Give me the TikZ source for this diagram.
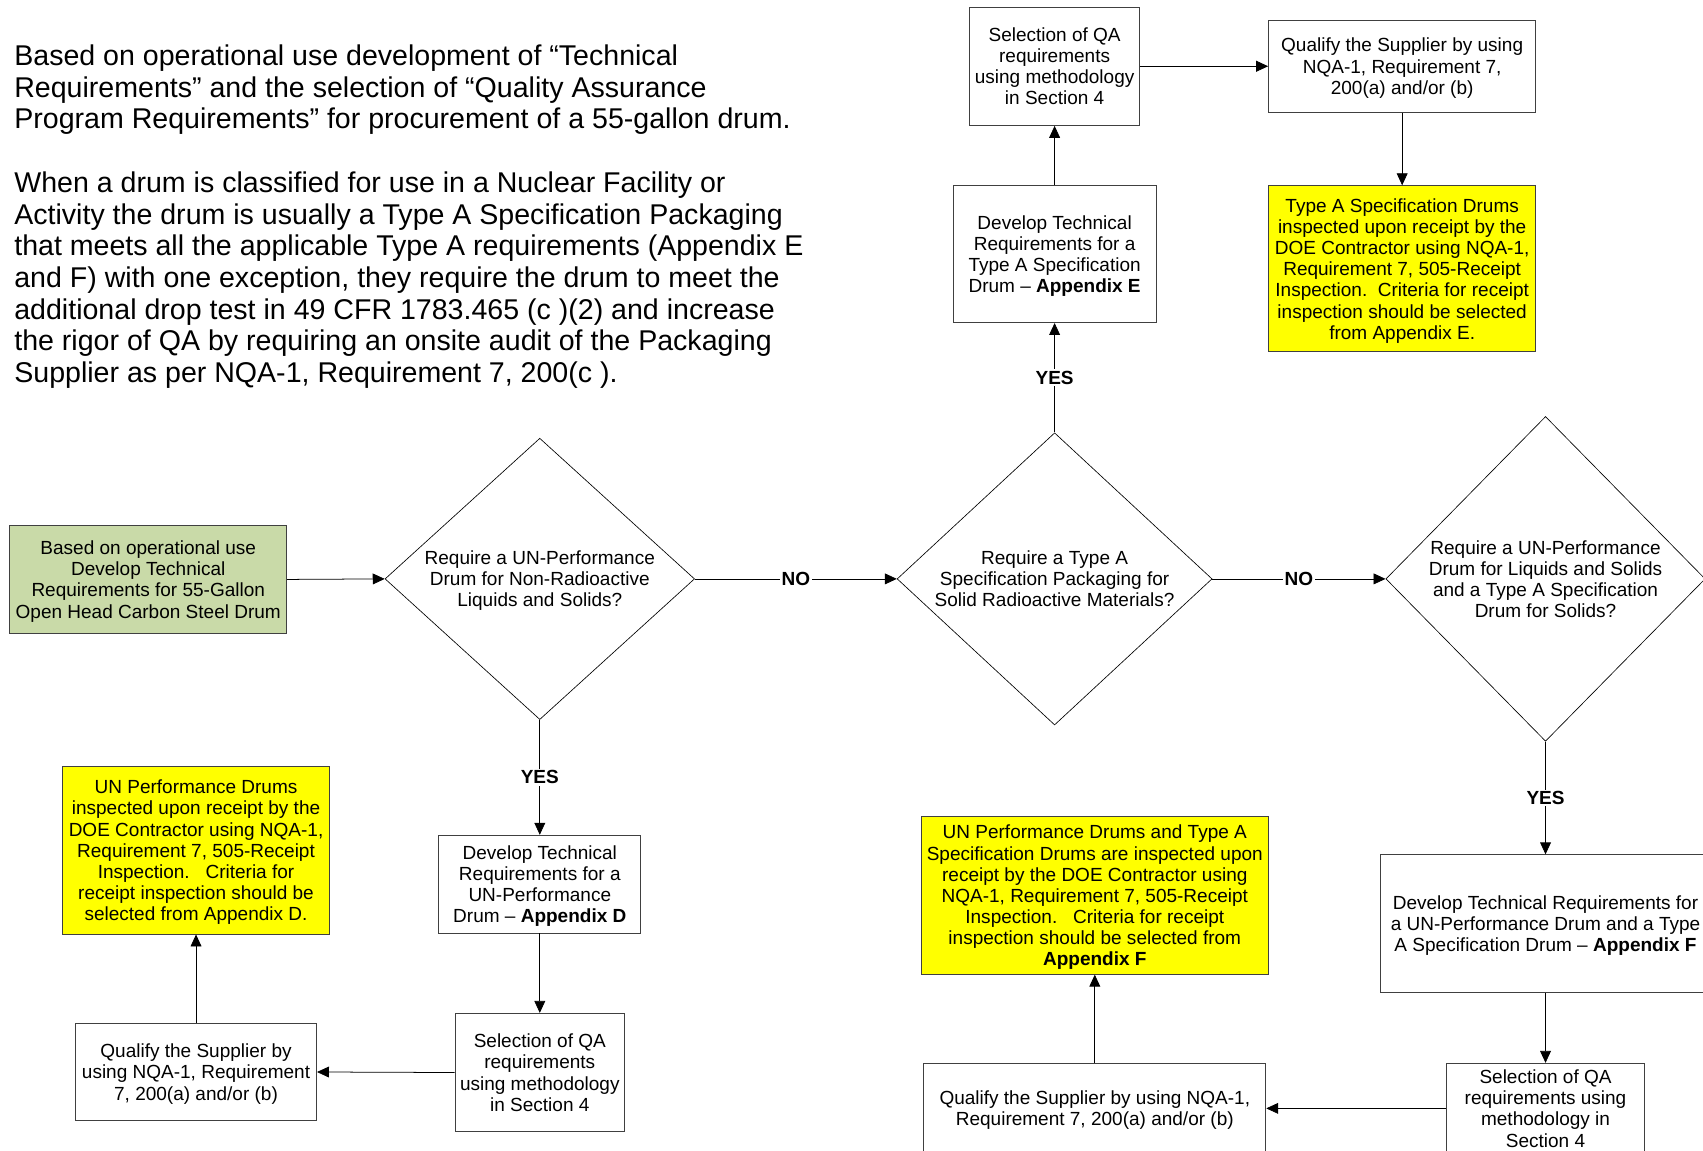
\documentclass[tikz,border=0pt]{standalone}
\usepackage{fontspec}
\setmainfont{Liberation Sans}
\usetikzlibrary{shapes.geometric,arrows.meta}
\definecolor{boxgreen}{RGB}{201,218,168}
\definecolor{boxyellow}{RGB}{255,255,0}
\definecolor{edgegray}{RGB}{64,64,64}
\begin{document}
\begin{tikzpicture}[x=1pt,y=-1pt,
  box/.style={rectangle, draw=edgegray, line width=0.8pt, inner sep=0pt, align=center,
    text depth=0pt, font=\fontsize{17.5}{19.5}\selectfont},
  greenbox/.style={box, fill=boxgreen},
  yellowbox/.style={box, fill=boxyellow},
  dia/.style={diamond, draw=black, line width=0.6pt, inner sep=0pt, align=center,
    text depth=0pt, font=\fontsize{17.5}{19.5}\selectfont},
  conn/.style={-{Triangle[length=11pt,width=10pt]}, line width=0.7pt, draw=black},
  lab/.style={fill=white, inner sep=1.5pt, font=\fontsize{17.5}{19.5}\selectfont\bfseries}
]
\useasboundingbox (0,0) rectangle (1568,1059);
\clip (0,0) rectangle (1568,1059);

% intro text
\node[anchor=north west, inner sep=0pt, align=left, font=\fontsize{26.3}{29.2}\selectfont] (intro) at (13,41)
{Based on operational use development of “Technical\\
Requirements” and the selection of “Quality Assurance\\
Program Requirements” for procurement of a 55-gallon drum.\\[29.2pt]
When a drum is classified for use in a Nuclear Facility or\\
Activity the drum is usually a Type A Specification Packaging\\
that meets all the applicable Type A requirements (Appendix E\\
and F) with one exception, they require the drum to meet the\\
additional drop test in 49 CFR 1783.465 (c )(2) and increase\\
the rigor of QA by requiring an onsite audit of the Packaging\\
Supplier as per NQA-1, Requirement 7, 200(c ).};

% start
\node[greenbox, minimum width=255pt, minimum height=99pt] (start) at (136.5,533.5)
{Based on operational use\\Develop Technical\\Requirements for 55-Gallon\\Open Head Carbon Steel Drum};

% decisions
\node[dia, minimum width=285pt, minimum height=259pt, aspect=1.1] (d1) at (497,533)
{Require a UN-Performance\\Drum for Non-Radioactive\\Liquids and Solids?};
\node[dia, minimum width=290pt, minimum height=269pt, aspect=1.08] (d2) at (971,533)
{Require a Type A\\Specification Packaging for\\Solid Radioactive Materials?};
\node[dia, minimum width=294pt, minimum height=299pt, aspect=0.98] (d3) at (1423,533)
{Require a UN-Performance\\Drum for Liquids and Solids\\and a Type A Specification\\Drum for Solids?};

% top branch (Type A)
\node[box, minimum width=187pt, minimum height=126pt] (devE) at (971,234)
{Develop Technical\\Requirements for a\\Type A Specification\\Drum – \textbf{Appendix E}};
\node[box, minimum width=157pt, minimum height=109pt] (selA) at (971,61)
{Selection of QA\\requirements\\using methodology\\in Section 4};
\node[box, minimum width=246pt, minimum height=85pt] (qualA) at (1291,61)
{Qualify the Supplier by using\\NQA-1, Requirement 7,\\200(a) and/or (b)};
\node[yellowbox, minimum width=246pt, minimum height=153pt] (inspA) at (1291,247.5)
{Type A Specification Drums\\inspected upon receipt by the\\DOE Contractor using NQA-1,\\Requirement 7, 505-Receipt\\Inspection.\ \ Criteria for receipt\\inspection should be selected\\from Appendix E.};

% left branch (UN performance)
\node[box, minimum width=186pt, minimum height=90pt] (devD) at (497,814)
{Develop Technical\\Requirements for a\\UN-Performance\\Drum – \textbf{Appendix D}};
\node[box, minimum width=156pt, minimum height=109pt] (selD) at (497,987.5)
{Selection of QA\\requirements\\using methodology\\in Section 4};
\node[box, minimum width=222pt, minimum height=90pt] (qualD) at (180.5,987)
{Qualify the Supplier by\\using NQA-1, Requirement\\7, 200(a) and/or (b)};
\node[yellowbox, minimum width=246pt, minimum height=154pt] (inspD) at (180.5,783)
{UN Performance Drums\\inspected upon receipt by the\\DOE Contractor using NQA-1,\\Requirement 7, 505-Receipt\\Inspection.\ \ \ Criteria for\\receipt inspection should be\\selected from Appendix D.};

% right branch (both)
\node[box, minimum width=304pt, minimum height=127pt] (devF) at (1423,850.5)
{Develop Technical Requirements for\\a UN-Performance Drum and a Type\\A Specification Drum – \textbf{Appendix F}};
\node[box, minimum width=183pt, minimum height=83pt] (selF) at (1423,1020.5)
{Selection of QA\\requirements using\\methodology in\\Section 4};
\node[box, minimum width=315pt, minimum height=83pt] (qualF) at (1008,1020.5)
{Qualify the Supplier by using NQA-1,\\Requirement 7, 200(a) and/or (b)};
\node[yellowbox, minimum width=320pt, minimum height=145pt] (inspF) at (1008,824.5)
{UN Performance Drums and Type A\\Specification Drums are inspected upon\\receipt by the DOE Contractor using\\NQA-1, Requirement 7, 505-Receipt\\Inspection.\ \ \ Criteria for receipt\\inspection should be selected from\\\textbf{Appendix F}};

% connectors
\draw[conn] (start.east) -- (d1.west);
\draw[conn] (d1.east) -- node[lab] (no1) {NO} (d2.west);
\draw[conn] (d2.east) -- node[lab] (no2) {NO} (d3.west);

\draw[conn] (d2.north) -- node[lab] (yes2) {YES} (devE.south);
\draw[conn] (devE.north) -- (selA.south);
\draw[conn] (selA.east) -- (qualA.west);
\draw[conn] (qualA.south) -- (inspA.north);

\draw[conn] (d1.south) -- node[lab] (yes1) {YES} (devD.north);
\draw[conn] (devD.south) -- (selD.north);
\draw[conn] (selD.west) -- (qualD.east);
\draw[conn] (qualD.north) -- (inspD.south);

\draw[conn] (d3.south) -- node[lab] (yes3) {YES} (devF.north);
\draw[conn] (devF.south) -- (selF.north);
\draw[conn] (selF.west) -- (qualF.east);
\draw[conn] (qualF.north) -- (inspF.south);
\end{tikzpicture}
\end{document}
